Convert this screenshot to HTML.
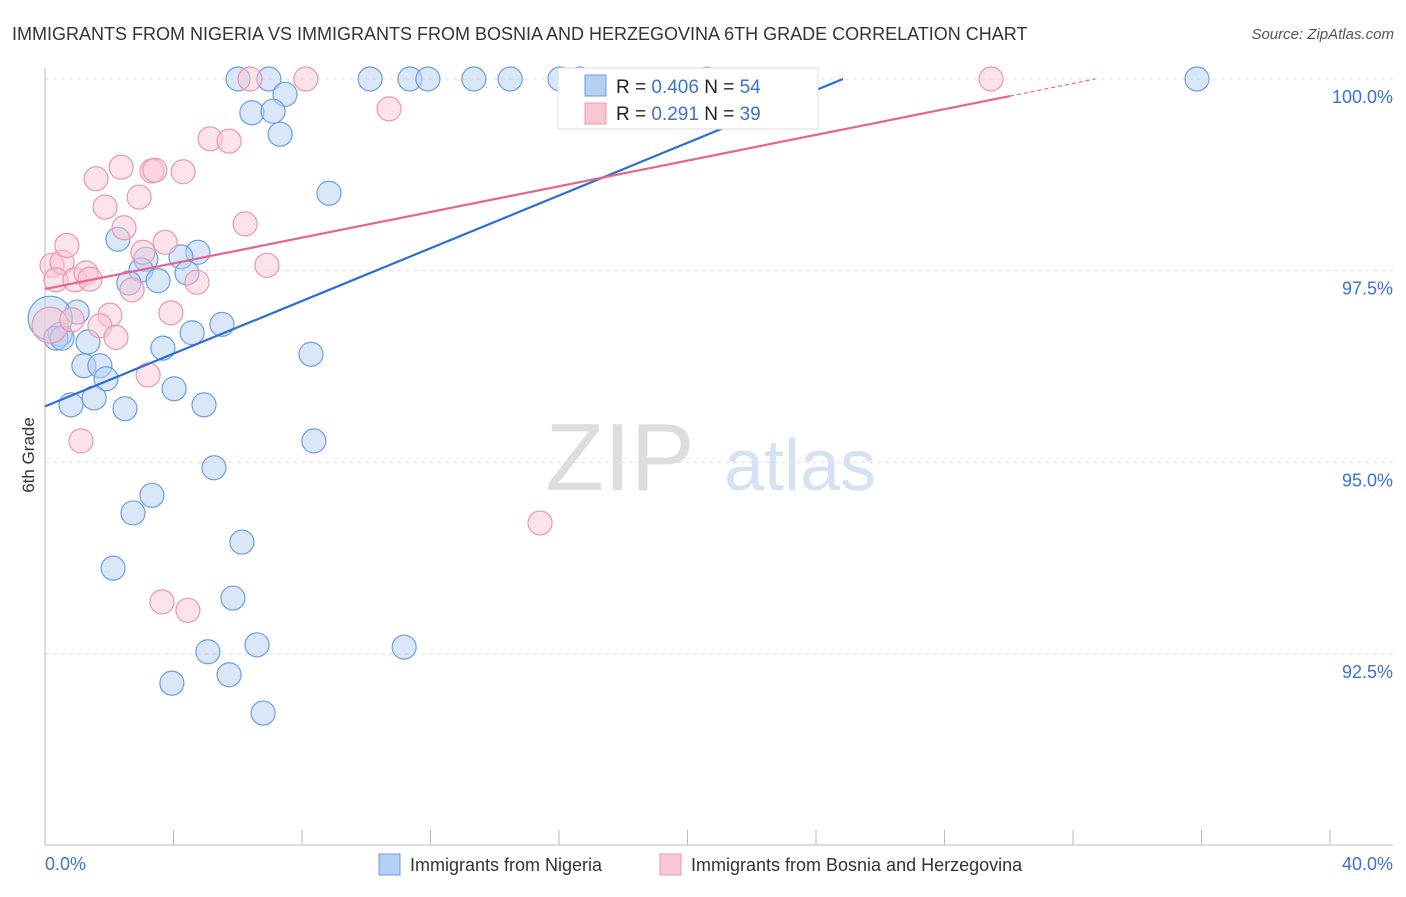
<!DOCTYPE html>
<html><head><meta charset="utf-8"><style>
body{margin:0;background:#fff;font-family:"Liberation Sans",sans-serif;}
svg text{font-family:"Liberation Sans",sans-serif;}
</style></head><body>
<svg width="1406" height="892">
<text x="12" y="40" font-size="18" fill="#333">IMMIGRANTS FROM NIGERIA VS IMMIGRANTS FROM BOSNIA AND HERZEGOVINA 6TH GRADE CORRELATION CHART</text>
<text x="1394" y="39" font-size="15" fill="#555" text-anchor="end" font-style="italic">Source: ZipAtlas.com</text>
<text x="620" y="490" font-size="96" fill="#ddd" font-family="Liberation Serif" text-anchor="middle">ZIP</text>
<text x="800" y="490" font-size="72" fill="#d5e2f3" text-anchor="middle">atlas</text>
<g id="grid"></g>
<g id="axes"></g>
<g id="pts"></g>
<g id="lines"></g>
<text transform="translate(34,455) rotate(-90)" font-size="17" fill="#333" text-anchor="middle">6th Grade</text>
<text x="45" y="870" font-size="18" fill="#3b73d3">0.0%</text>
<text x="1393" y="870" font-size="18" fill="#3b73d3" text-anchor="end">40.0%</text>
<g>
<rect x="558" y="68" width="260" height="61" fill="#fff" stroke="#ddd"/>
<rect x="585" y="75" width="21" height="21" fill="#b5cff3" stroke="#6a9ee6"/>
<rect x="585" y="103" width="21" height="21" fill="#f9c6d4" stroke="#ec96b0"/>
<text x="616" y="93" font-size="19" fill="#222">R = <tspan fill="#3b73d3">0.406</tspan>   N = <tspan fill="#3b73d3">54</tspan></text>
<text x="616" y="120" font-size="19" fill="#222">R =  <tspan fill="#3b73d3">0.291</tspan>   N = <tspan fill="#3b73d3">39</tspan></text>
</g>
<g>
<rect x="379" y="854" width="21" height="21" fill="#b5cff3" stroke="#6a9ee6"/>
<text x="410" y="871" font-size="18" fill="#333">Immigrants from Nigeria</text>
<rect x="660" y="854" width="21" height="21" fill="#f9c6d4" stroke="#ec96b0"/>
<text x="691" y="871" font-size="18" fill="#333">Immigrants from Bosnia and Herzegovina</text>
</g>
</svg>
<script>
const yTicks=[100,97.5,95,92.5];
const yTickLabels=["100.0%","97.5%","95.0%","92.5%"];
const xTicks=[0,4,8,12,16,20,24,28,32,36,40];
const nigeriaX=[6.01,6.97,10.12,11.36,11.92,13.35,14.48,16.03,16.65,35.86,7.47,6.44,7.10,7.32,8.84,2.27,4.76,3.14,4.23,2.99,4.42,2.61,3.52,1.00,0.16,0.47,5.51,4.58,1.34,3.67,8.28,1.21,1.71,1.90,4.02,1.53,0.81,2.49,4.95,8.37,5.26,3.33,2.74,6.13,2.12,5.85,5.07,6.60,11.18,3.95,5.73,6.79,0.34,0.53];
const nigeriaY=[100,100,100,100,100,100,100,100,100,100,99.80,99.56,99.58,99.28,98.51,97.91,97.74,97.65,97.68,97.51,97.47,97.34,97.37,96.96,96.88,96.67,96.80,96.69,96.57,96.49,96.41,96.26,96.26,96.09,95.96,95.84,95.75,95.70,95.75,95.28,94.93,94.57,94.34,93.96,93.62,93.23,92.53,92.62,92.59,92.12,92.23,91.73,96.62,96.62];
const bosniaX=[0.16,0.22,0.53,0.68,0.34,0.93,1.28,1.40,1.59,1.87,2.37,2.46,2.93,3.33,3.42,4.30,3.05,3.74,4.73,2.71,2.02,1.71,2.21,3.92,3.21,1.12,3.64,4.45,5.14,5.73,6.23,6.91,6.38,8.12,10.71,15.41,20.61,29.45,0.84];
const bosniaY=[96.79,97.57,97.61,97.83,97.38,97.38,97.47,97.39,98.70,98.33,98.85,98.06,98.46,98.80,98.81,98.79,97.74,97.87,97.35,97.25,96.92,96.78,96.63,96.95,96.14,95.28,93.18,93.07,99.22,99.19,98.11,97.57,100,100,99.61,94.21,100,100,96.86];
const nigeriaTrend=[95.73,0.1719];
const bosniaTrend=[97.26,0.0838];
const NS="http://www.w3.org/2000/svg";
const X=v=>45+v*1285/40, Y=v=>79+(100-v)*76.67;
function mk(p,t,a){const e=document.createElementNS(NS,t);for(const k in a)e.setAttribute(k,a[k]);document.getElementById(p).appendChild(e);return e;}
yTicks.forEach((t,i)=>{
 const g=mk('grid','line',{x1:45,x2:1393,y1:Y(t),y2:Y(t),stroke:'#ddd','stroke-dasharray':'4,4'});
 
 
 const l=mk('grid','text',{x:1393,y:Y(t)+24,'font-size':18,fill:'#3b73d3','text-anchor':'end'});
 l.textContent=yTickLabels[i];
 
 
});
const ax=mk('axes','line',{x1:45,x2:45,y1:68,y2:845,stroke:'#bbb'});


const bx=mk('axes','line',{x1:45,x2:1393,y1:845,y2:845,stroke:'#bbb'});


xTicks.forEach(t=>{
 const tk=mk('axes','line',{x1:X(t),x2:X(t),y1:830,y2:845,stroke:'#bbb'});
 
 
});
function pts(xs,ys,fill,stroke,name){xs.forEach((x,i)=>{
 const big=(name==='nigeria-point'&&i===24)?22:(name==='bosnia-point'&&i===0)?18:12;
 const c=mk('pts','circle',{cx:X(x),cy:Y(ys[i]),r:big,fill:fill,'fill-opacity':0.5,stroke:stroke,'stroke-width':1.2});
 
 
});}
pts(nigeriaX,nigeriaY,'#b5cff3','#6a9ee6','nigeria-point');
pts(bosniaX,bosniaY,'#f9c6d4','#ec96b0','bosnia-point');
const xe=(100-nigeriaTrend[0])/nigeriaTrend[1];
const bl=mk('lines','line',{x1:X(0),y1:Y(nigeriaTrend[0]),x2:X(xe),y2:Y(100),stroke:'#2b6fd6','stroke-width':2.2});


const pe=30.04, pe2=(100-bosniaTrend[0])/bosniaTrend[1];
const pl=mk('lines','line',{x1:X(0),y1:Y(bosniaTrend[0]),x2:X(pe),y2:Y(bosniaTrend[0]+bosniaTrend[1]*pe),stroke:'#e8648f','stroke-width':2.2});


const pd=mk('lines','line',{x1:X(pe),y1:Y(bosniaTrend[0]+bosniaTrend[1]*pe),x2:X(pe2),y2:Y(100),stroke:'#e8648f','stroke-width':1.2,'stroke-dasharray':'4,3'});


</script>
</body></html>
